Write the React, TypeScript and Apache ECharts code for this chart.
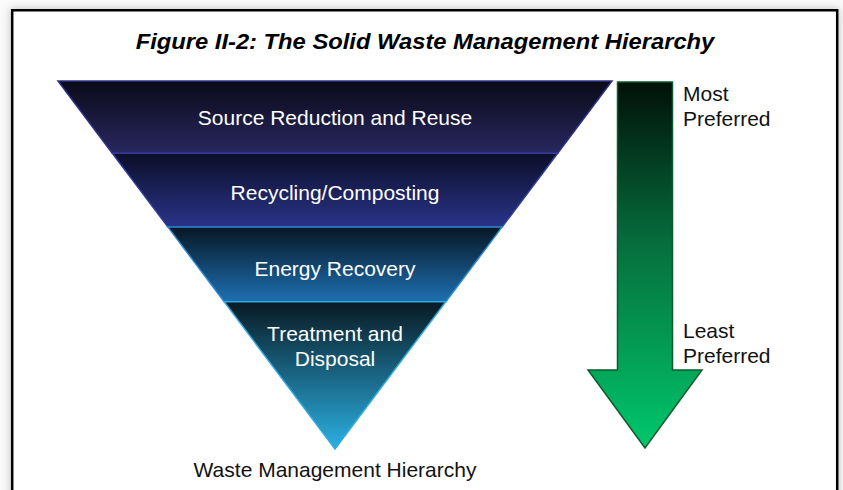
import React, { useEffect, useRef } from "react";
import * as echarts from "echarts";

// ---- data ----
const titleText = "Figure II-2: The Solid Waste Management Hierarchy";
const captionText = "Waste Management Hierarchy";
const layerNames = [
  "Source Reduction and Reuse",
  "Recycling/Composting",
  "Energy Recovery",
  "Treatment and\nDisposal",
];
// depth of each layer inside the inverted triangle (0 = top edge, 1 = apex)
const layerTop = [0, 0.196, 0.397, 0.6];
const layerBottom = [0.196, 0.397, 0.6, 1];
const preferenceLabels = ["Most\nPreferred", "Least\nPreferred"];
// arrow runs from most preferred (depth 0) to least preferred (depth 1)
const arrowSpan = [[0, 0, 1]];

// ---- styles ----
const FONT = '"Liberation Sans", Arial, Helvetica, sans-serif';
const layerFill = [
  ["#0a0a18", "#28275f"],
  ["#0b0e28", "#2a3489"],
  ["#071724", "#1e70b2"],
  ["#091a24", "#2bb0e2"],
];
const layerStroke = ["#30308a", "#303d9a", "#2a88d2", "#30aae2"];

export default function App() {
  const ref = useRef<HTMLDivElement>(null);

  useEffect(() => {
    if (!ref.current) return;
    const chart = echarts.init(ref.current, null, { renderer: "svg" });

    const pyramidData = layerNames.map((n, i) => [i, layerTop[i], layerBottom[i]]);

    const option: any = {
      animation: false,
      backgroundColor: "transparent",
      grid: { left: 58, top: 81, width: 554, height: 368, show: false },
      xAxis: { type: "value", min: -1, max: 1, show: false },
      yAxis: { type: "value", min: 0, max: 1, inverse: true, show: false },
      graphic: [
        {
          type: "rect",
          z: -10,
          shape: { x: 12.2, y: 10.3, width: 825, height: 500 },
          style: {
            fill: "#ffffff",
            stroke: "#000000",
            lineWidth: 2.5,
            shadowBlur: 8,
            shadowColor: "rgba(0,0,0,0.25)",
          },
        },
        {
          type: "text",
          x: 425,
          y: 41,
          scaleX: 1.08,
          style: {
            text: titleText,
            font: `italic bold 22px ${FONT}`,
            fill: "#000000",
            align: "center",
            verticalAlign: "middle",
          },
        },
        {
          type: "text",
          x: 335,
          y: 469,
          style: {
            text: captionText,
            font: `21px ${FONT}`,
            fill: "#111111",
            align: "center",
            verticalAlign: "middle",
          },
        },
      ],
      series: [
        {
          type: "custom",
          name: "hierarchy",
          coordinateSystem: "cartesian2d",
          clip: false,
          data: pyramidData,
          encode: { x: 0, y: 1 },
          renderItem: (params: any, api: any) => {
            const i = params.dataIndex;
            const t = api.value(1);
            const b = api.value(2);
            const p1 = api.coord([-(1 - t), t]);
            const p2 = api.coord([1 - t, t]);
            const p3 = api.coord([1 - b, b]);
            const p4 = api.coord([-(1 - b), b]);
            const isTri = b >= 1;
            const points = isTri ? [p1, p2, p3] : [p1, p2, p3, p4];
            const origin = api.coord([0, 0]);
            const cx = origin[0];
            const ly = isTri
              ? p1[1] + (p3[1] - p1[1]) * 0.3
              : (p1[1] + p3[1]) / 2 + (p1[1] - origin[1]) * 0.03;
            return {
              type: "group",
              children: [
                {
                  type: "polygon",
                  shape: { points },
                  style: {
                    fill: new echarts.graphic.LinearGradient(0, 0, 0, 1, [
                      { offset: 0, color: layerFill[i][0] },
                      { offset: 1, color: layerFill[i][1] },
                    ]),
                    stroke: layerStroke[i],
                    lineWidth: 1.5,
                  },
                },
                {
                  type: "text",
                  x: cx,
                  y: ly,
                  style: {
                    text: layerNames[i],
                    font: `21px ${FONT}`,
                    fill: "#ffffff",
                    align: "center",
                    verticalAlign: "middle",
                    lineHeight: 25,
                  },
                },
              ],
            };
          },
        },
        {
          type: "custom",
          name: "preference",
          coordinateSystem: "cartesian2d",
          clip: false,
          data: arrowSpan,
          encode: { x: 0, y: 1 },
          renderItem: (params: any, api: any) => {
            const top = api.coord([1, api.value(1)]);
            const tip = api.coord([1, api.value(2)]);
            const xr = top[0];
            const cx = xr + 33;
            const yTop = top[1] + 1;
            const yTip = tip[1] - 1;
            const yHead = top[1] + (tip[1] - top[1]) * 0.785;
            const sw = 27.5;
            const hw = 57;
            return {
              type: "group",
              children: [
                {
                  type: "polygon",
                  shape: {
                    points: [
                      [cx - sw, yTop],
                      [cx + sw, yTop],
                      [cx + sw, yHead],
                      [cx + hw, yHead],
                      [cx, yTip],
                      [cx - hw, yHead],
                      [cx - sw, yHead],
                    ],
                  },
                  style: {
                    fill: new echarts.graphic.LinearGradient(0, 0, 0, 1, [
                      { offset: 0, color: "#011008" },
                      { offset: 0.45, color: "#06703e" },
                      { offset: 0.8, color: "#03a85a" },
                      { offset: 1, color: "#00c86e" },
                    ]),
                    stroke: "#0a5c2e",
                    lineWidth: 1.5,
                  },
                },
                {
                  type: "text",
                  x: xr + 71,
                  y: top[1] + 24.5,
                  style: {
                    text: preferenceLabels[0],
                    font: `21px ${FONT}`,
                    fill: "#111111",
                    align: "left",
                    verticalAlign: "middle",
                    lineHeight: 25,
                  },
                },
                {
                  type: "text",
                  x: xr + 71,
                  y: top[1] + (tip[1] - top[1]) * 0.712,
                  style: {
                    text: preferenceLabels[1],
                    font: `21px ${FONT}`,
                    fill: "#111111",
                    align: "left",
                    verticalAlign: "middle",
                    lineHeight: 25,
                  },
                },
              ],
            };
          },
        },
      ],
    };

    chart.setOption(option);
    return () => chart.dispose();
  }, []);

  return (
    <div
      ref={ref}
      style={{ position: "absolute", left: 0, top: 0, width: 843, height: 490, background: "#fafafa" }}
    />
  );
}
